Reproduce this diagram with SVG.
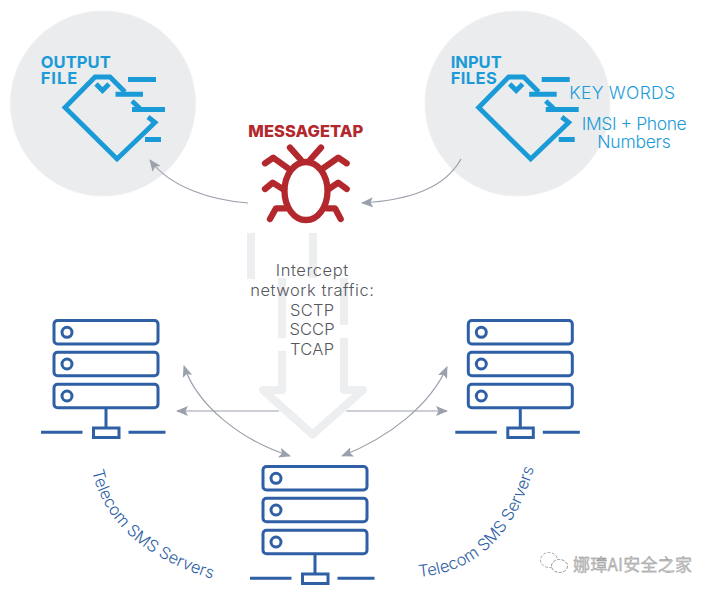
<svg xmlns="http://www.w3.org/2000/svg" xmlns:xlink="http://www.w3.org/1999/xlink" width="714" height="595" viewBox="0 0 714 595">
<style>
.circ{fill:#EBECEE;stroke:#F0F1F3;stroke-width:1}
.file{fill:none;stroke:#1A9BD7;stroke-width:4.8}
.fbar{stroke:#1A9BD7;stroke-width:5;fill:none}
.lbl{font-family:"Inter","Liberation Sans",sans-serif;font-weight:700;font-size:16.5px;fill:#1A9BD7}
.blue{font-family:"Inter","Liberation Sans",sans-serif;font-weight:300;font-size:17.5px;fill:#1A9BD7}
.grey{font-family:"Inter","Liberation Sans",sans-serif;font-weight:300;font-size:16.500px;fill:#55575C;text-anchor:middle}
.srv{font-family:"Inter","Liberation Sans",sans-serif;font-weight:300;font-size:16.500px;fill:#2F5FA5}
.bug{fill:none;stroke:#B3282D;stroke-width:6.3;stroke-linecap:round;stroke-linejoin:round}
.sv{fill:none;stroke:#2F5FA5;stroke-width:3}
.shaft{fill:#EDEEF0}
.con{fill:none;stroke:#9AA0AC;stroke-width:1.2}
.ahead{fill:#9AA0AC}
</style>
<defs>
<marker id="ah" viewBox="0 0 12 10" refX="11" refY="5" markerWidth="12" markerHeight="10" markerUnits="userSpaceOnUse" orient="auto-start-reverse">
<path class="ahead" d="M0,0 L12,5 L0,10 L2.5,5 Z"/>
</marker>
<g id="fileicon">
<path class="file" d="M125,92 L110,77 H95 L65,107.500 L117,159 L155,122.500 L148,117"/>
<path class="file" d="M96,84 L102.500,90.500 L109,84"/>
<path class="file" d="M132,101 L140,108.500"/>
<path class="fbar" d="M128,79.500H156M115.500,94.300H143M132,109.500H165M145,139.500H161"/>
</g>
<g id="server">
<rect class="sv" x="54" y="320.500" width="104" height="23.500" rx="3.500"/>
<rect class="sv" x="54" y="352.300" width="104" height="23.500" rx="3.500"/>
<rect class="sv" x="54" y="384.200" width="104" height="23.500" rx="3.500"/>
<circle class="sv" cx="67" cy="332.300" r="5"/>
<circle class="sv" cx="67" cy="364" r="5"/>
<circle class="sv" cx="67" cy="396" r="5"/>
<path class="sv" d="M106,408V428M41,432.300H82.500M128.500,432.300H165.500"/>
<rect class="sv" x="93.500" y="428" width="25.500" height="9.500"/>
</g>
<path id="arcL" d="M92,471 Q110,549 216,580"/>
<path id="arcR" d="M419,577 Q505,570 535,465"/>
</defs>

<g id="output-file">
<circle class="circ" cx="103" cy="103.500" r="92.500"/>
<use xlink:href="#fileicon" href="#fileicon"/>
<text class="lbl" x="40.700" y="67.700" textLength="70">OUTPUT</text>
<text class="lbl" x="40.700" y="84.300" textLength="36.500">FILE</text>
</g>

<g id="input-files">
<circle class="circ" cx="517.500" cy="103.500" r="92.500"/>
<use xlink:href="#fileicon" href="#fileicon" x="413.700"/>
<text class="lbl" x="450.700" y="67.700" textLength="51">INPUT</text>
<text class="lbl" x="450.700" y="84.300" textLength="46">FILES</text>
<text class="blue" x="569.300" y="99.300" textLength="105.700">KEY WORDS</text>
<text class="blue" x="581.700" y="130" textLength="105">IMSI + Phone</text>
<text class="blue" x="597.300" y="148" textLength="73.400">Numbers</text>
</g>

<g id="messagetap">
<text x="248.300" y="136.700" textLength="115" style="font-family:'Inter','Liberation Sans',sans-serif;font-weight:800;font-size:16.500px;fill:#B3282D">MESSAGETAP</text>
<ellipse class="bug" cx="306" cy="191" rx="21.500" ry="29"/>
<path class="bug" d="M290,147.700L301,160M321,147.700L310,160M265,163.300L273.300,157.700L288,168.300M346.700,163.300L338.300,157.700L323,168.300M265,189L272.700,182.700L283.300,189.300M346.700,189L338.300,182.700L328.300,189.300M270,219L276,208.300H286.700M340.700,219L335,208.300H326.700"/>
</g>

<g id="intercept-arrow">
<rect class="shaft" x="247" y="233" width="8" height="46"/>
<rect class="shaft" x="309" y="233" width="8" height="45"/>
<rect class="shaft" x="278" y="278" width="8" height="60"/>
<rect class="shaft" x="340" y="278" width="8" height="47"/>
<rect class="shaft" x="278" y="351" width="8" height="40"/>
<rect class="shaft" x="340" y="338" width="8" height="53"/>
<path d="M282,390H263L312.500,434.500L363,390H344" fill="#fff" stroke="#EDEEF0" stroke-width="8" stroke-linejoin="round" stroke-linecap="round"/>
<text class="grey" x="312" y="276" textLength="72.500">Intercept</text>
<text class="grey" x="312" y="296" textLength="123.700">network traffic:</text>
<text class="grey" x="312" y="315.700" textLength="44">SCTP</text>
<text class="grey" x="312" y="335" textLength="45">SCCP</text>
<text class="grey" x="312" y="355" textLength="44">TCAP</text>
</g>

<g id="connectors">
<path class="con" marker-end="url(#ah)" d="M248,203 C210,200 170,187 150,160"/>
<path class="con" marker-end="url(#ah)" d="M461,159 C445,188 410,200 362,203"/>
<path class="con" marker-start="url(#ah)" marker-end="url(#ah)" d="M184,366 C197,405 240,440 290,456"/>
<path class="con" marker-start="url(#ah)" marker-end="url(#ah)" d="M447,367 C430,405 390,437 342,456"/>
<path class="con" marker-end="url(#ah)" d="M279,411H177"/>
<path class="con" marker-end="url(#ah)" d="M346.500,411H447"/>
</g>

<g id="server-left">
<use xlink:href="#server" href="#server"/>
<text class="srv"><textPath xlink:href="#arcL" href="#arcL">Telecom SMS Servers</textPath></text>
</g>
<g id="server-right">
<use xlink:href="#server" href="#server" x="414.300"/>
<text class="srv"><textPath xlink:href="#arcR" href="#arcR">Telecom SMS Servers</textPath></text>
</g>
<g id="server-bottom">
<use xlink:href="#server" href="#server" x="209" y="146"/>
</g>

<g id="watermark">
<ellipse cx="549" cy="560" rx="8.500" ry="7.500" fill="#fff" stroke="#A8A8A8" stroke-width="1" stroke-dasharray="3 1.500"/>
<ellipse cx="559.500" cy="566" rx="8" ry="6.500" fill="#fff" stroke="#909090" stroke-width="1" stroke-dasharray="3 1.500"/>
<text x="573" y="570.500" textLength="119" style="font-family:'Noto Sans CJK SC','Liberation Sans',sans-serif;font-size:17px;fill:#C4C4C4;stroke:#8C8C8C;stroke-width:0.3">娜璋AI安全之家</text>
</g>
</svg>
